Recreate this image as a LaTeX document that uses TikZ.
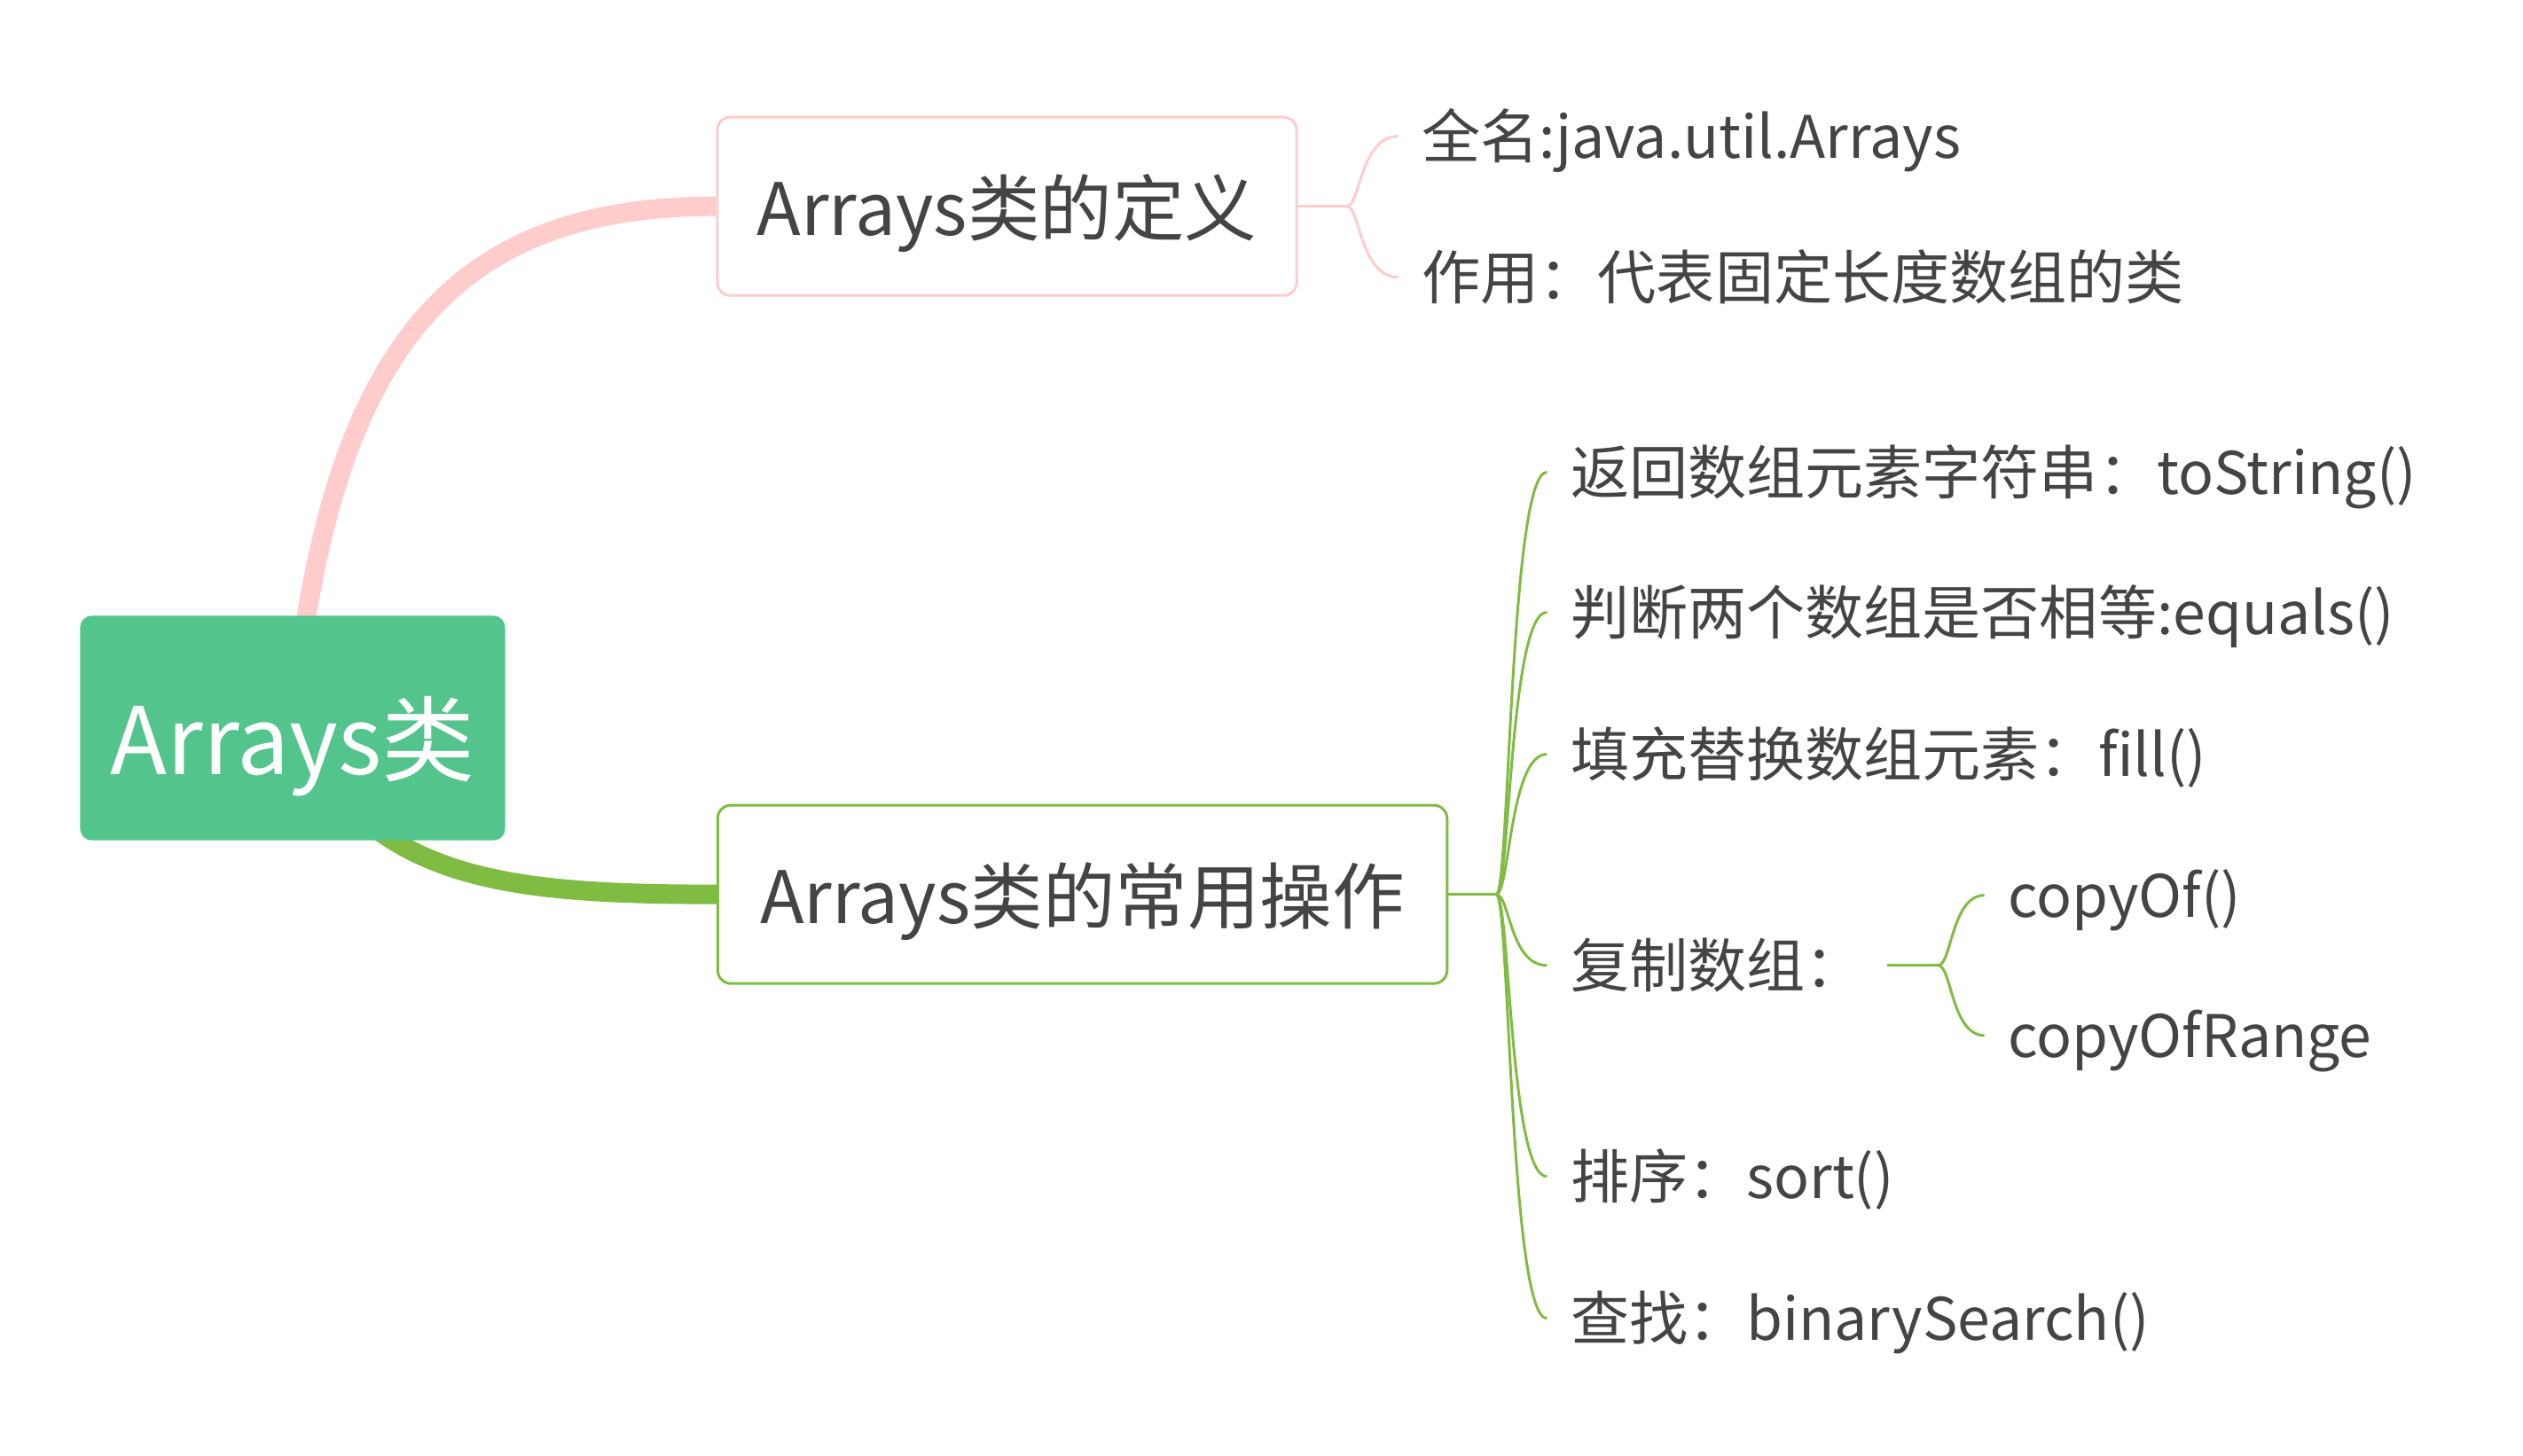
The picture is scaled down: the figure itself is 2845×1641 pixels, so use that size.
\documentclass[tikz,border=0pt]{standalone}
\usepackage{fontspec}
\setmainfont{Noto Sans CJK SC}
\usepackage{tikz}
\usetikzlibrary{positioning, backgrounds}
\definecolor{rootgreen}{RGB}{82,196,140}
\definecolor{defpink}{RGB}{255,204,204}
\definecolor{opsgreen}{RGB}{128,187,66}
\definecolor{inkgray}{RGB}{68,68,68}
\tikzstyle{rootbox} = [rectangle, rounded corners=0.13cm, minimum width=4.79cm, minimum height=2.53cm, text centered, text height=1.2cm, text depth=0.16cm, fill=rootgreen, text=white, font=\fontsize{29.9pt}{36pt}\selectfont]
\tikzstyle{topic} = [rectangle, rounded corners=0.15cm, minimum height=2.01cm, text centered, text height=0.8cm, text depth=0.14cm, fill=white, line width=0.03cm, text=inkgray, font=\fontsize{23.2pt}{28pt}\selectfont]
\tikzstyle{leaf} = [inner ysep=0pt, inner xsep=0.26cm, text height=0.58cm, text depth=0.08cm, text=inkgray, font=\fontsize{18.8pt}{22pt}\selectfont]
\tikzstyle{limb} = [line width=0.22cm]
\tikzstyle{twig} = [line width=0.03cm]

\begin{document}
\begin{tikzpicture}[x=0.01cm, y=-0.01cm]
        \useasboundingbox (0,0) rectangle (2845,1641);

        % Root
        \node (root) [rootbox] at (330,821) {Arrays类};

        % Main topics
        \node (def) [topic, draw=defpink, minimum width=6.53cm, right of=root, node distance=8.05cm, yshift=5.88cm] {Arrays类的定义};
        \node (ops) [topic, draw=opsgreen, minimum width=8.22cm, right of=root, node distance=8.9cm, yshift=-1.875cm] {Arrays类的常用操作};

        % Junctions
        \coordinate (dj) at ([xshift=0.55cm]def.east);
        \coordinate (oj) at ([xshift=0.54cm]ops.east);
        \coordinate (cj) at ([xshift=4.98cm, yshift=-0.8cm]oj);

        % Definition leaves
        \node (fullname) [leaf, right=0.58cm of dj, yshift=0.79cm] {全名:java.util.Arrays};
        \node (role) [leaf, right=0.58cm of dj, yshift=-0.8cm] {作用：代表固定长度数组的类};

        % Operation leaves
        \node (tostr) [leaf, right=0.57cm of oj, yshift=4.76cm] {返回数组元素字符串：toString()};
        \node (equal) [leaf, right=0.57cm of oj, yshift=3.18cm] {判断两个数组是否相等:equals()};
        \node (fill) [leaf, right=0.57cm of oj, yshift=1.58cm] {填充替换数组元素：fill()};
        \node (copy) [leaf, right=0.57cm of oj, yshift=-0.8cm] {复制数组：};
        \node (sort) [leaf, right=0.57cm of oj, yshift=-3.18cm] {排序：sort()};
        \node (search) [leaf, right=0.57cm of oj, yshift=-4.78cm] {查找：binarySearch()};

        % Copy leaves
        \node (copyof) [leaf, right=0.52cm of cj, yshift=0.79cm] {copyOf()};
        \node (copyrange) [leaf, right=0.52cm of cj, yshift=-0.79cm] {copyOfRange};

        % Main branches
        \begin{scope}[on background layer]
        \draw [limb, draw=defpink] (root.center) .. controls +(40,-441) and +(-289,0) .. (def.west);
        \draw [limb, draw=opsgreen] (root.center) .. controls +(90,169) and +(-249,0) .. (ops.west);
        \end{scope}

        % Definition braces
        \draw [twig, draw=defpink] (def.east) -- (dj);
        \draw [twig, draw=defpink] (dj) .. controls +(15,0) and +(-43,0) .. (fullname.west);
        \draw [twig, draw=defpink] (dj) .. controls +(15,0) and +(-43,0) .. (role.west);

        % Operation braces
        \draw [twig, draw=opsgreen] (ops.east) -- (oj);
        \draw [twig, draw=opsgreen] (oj) .. controls +(15,0) and +(-42,0) .. (tostr.west);
        \draw [twig, draw=opsgreen] (oj) .. controls +(15,0) and +(-42,0) .. (equal.west);
        \draw [twig, draw=opsgreen] (oj) .. controls +(15,0) and +(-42,0) .. (fill.west);
        \draw [twig, draw=opsgreen] (oj) .. controls +(15,0) and +(-42,0) .. (copy.west);
        \draw [twig, draw=opsgreen] (oj) .. controls +(15,0) and +(-42,0) .. (sort.west);
        \draw [twig, draw=opsgreen] (oj) .. controls +(15,0) and +(-42,0) .. (search.west);

        % Copy braces
        \draw [twig, draw=opsgreen] (copy.east) -- (cj);
        \draw [twig, draw=opsgreen] (cj) .. controls +(15,0) and +(-37,0) .. (copyof.west);
        \draw [twig, draw=opsgreen] (cj) .. controls +(15,0) and +(-37,0) .. (copyrange.west);
    \end{tikzpicture}
\end{document}
